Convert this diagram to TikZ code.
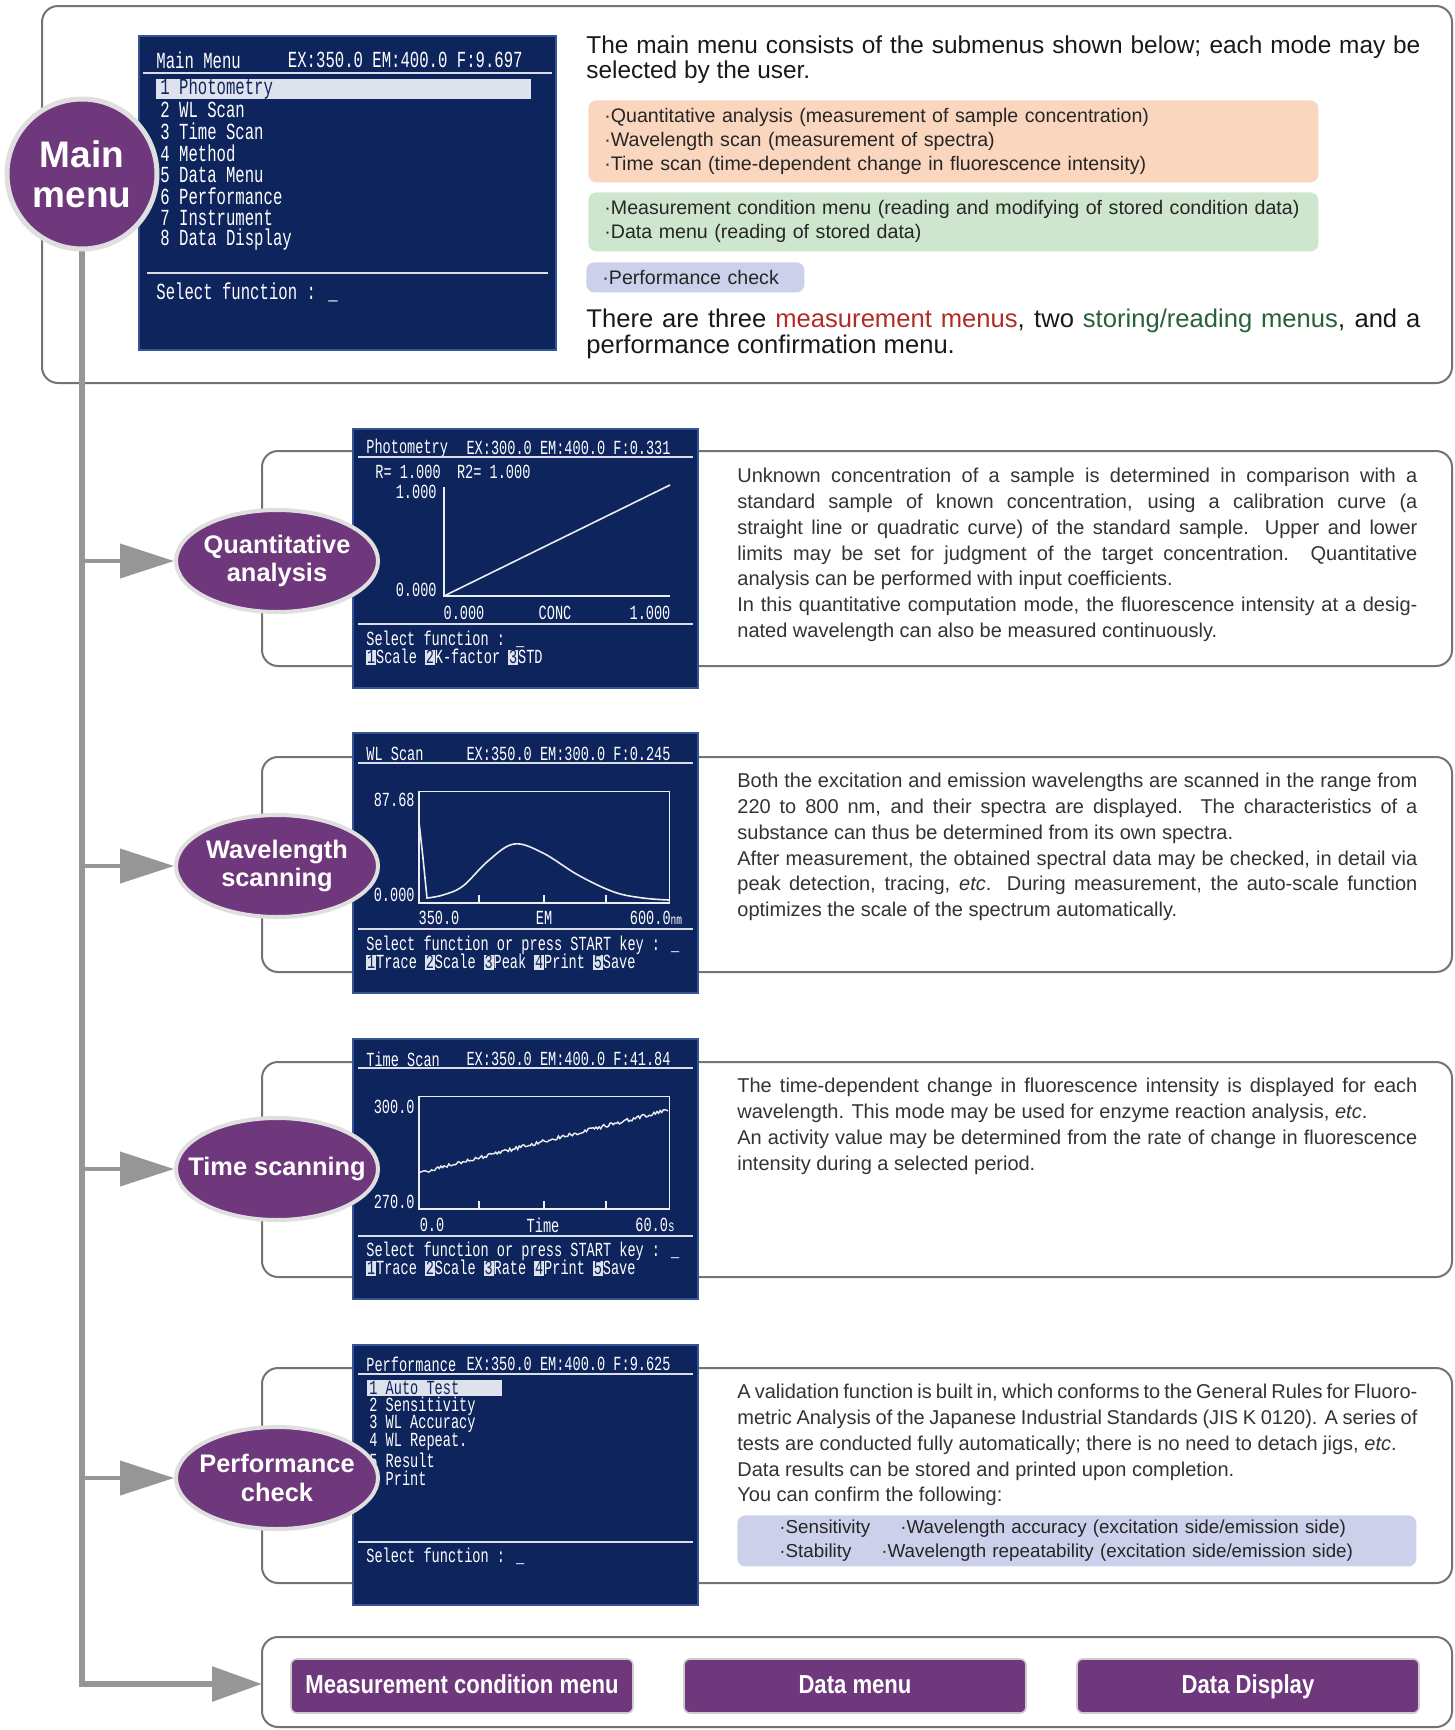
\documentclass[tikz,border=0pt]{standalone}
\usepackage{fontspec}
\setmainfont{Liberation Sans}
\newfontfamily\lcd{Liberation Mono}[FakeStretch=0.68]
\newfontfamily\condsans{Liberation Sans}[FakeStretch=0.85]
\usetikzlibrary{arrows.meta,positioning,shapes.geometric}

\definecolor{modepurple}{RGB}{112,56,124}
\definecolor{scrblue}{RGB}{14,36,92}
\definecolor{scredge}{RGB}{52,84,150}
\definecolor{panelgray}{RGB}{115,115,115}
\definecolor{linegray}{RGB}{150,150,150}
\definecolor{quantbg}{RGB}{250,214,190}
\definecolor{storebg}{RGB}{206,230,206}
\definecolor{perfbg}{RGB}{204,208,234}
\definecolor{measred}{RGB}{178,44,36}
\definecolor{storegreen}{RGB}{40,96,60}
\definecolor{hilite}{RGB}{222,226,236}

\newcommand\fkey[1]{{\setlength\fboxsep{0.4pt}\colorbox{hilite}{\textcolor{scrblue}{#1}}}}

\tikzset{
  panel/.style={draw=panelgray, line width=1pt, rounded corners=8pt},
  lcdscreen/.style={fill=scrblue, draw=scredge, line width=1.2pt},
  lcdrule/.style={draw=white!85!scrblue, line width=0.8pt},
  scrline/.style={draw=white!92!scrblue, line width=0.8pt},
  lcd/.style={text=white, inner sep=0pt, anchor=west, font=\lcd\fontsize{10}{12}\selectfont},
  biglcd/.style={lcd, font=\lcd\fontsize{11.5}{13}\selectfont},
  modeblob/.style={ellipse, fill=modepurple, draw=gray!25, line width=2pt, minimum width=101pt, minimum height=51pt, inner sep=0pt},
  modetext/.style={text=white, align=center, inner sep=0pt, font=\bfseries\fontsize{12.7}{14.3}\selectfont},
  mainblob/.style={circle, fill=modepurple, draw=gray!25, line width=2.5pt, minimum size=75pt, inner sep=0pt},
  branch/.style={draw=linegray, line width=2pt, -{Triangle[length=27pt,width=17pt]}},
  trunk/.style={draw=linegray, line width=3pt, -{Triangle[length=25pt,width=17pt]}},
  intro/.style={anchor=north west, inner sep=0pt, text width=417pt, align=justify, text=black!90, font=\fontsize{12.2}{12.8}\selectfont},
  desc/.style={anchor=north west, inner sep=0pt, text width=340pt, align=justify, text=black!80, font=\fontsize{10}{12.85}\selectfont},
  tint/.style={anchor=north west, rounded corners=4pt, inner xsep=8pt, inner ysep=0pt, align=left, text=black!85, font=\fontsize{9.8}{12}\selectfont},
  menubtn/.style={fill=modepurple, draw=gray!40, line width=0.8pt, rounded corners=3pt, minimum width=171pt, minimum height=27pt, text height=9.5pt, text depth=2.5pt, text=white, font=\condsans\bfseries\fontsize{13}{14}\selectfont}
}

\begin{document}
\begin{tikzpicture}[x=0.5pt,y=-0.5pt]
\useasboundingbox (0,0) rectangle (1455,1730);
\fill[white] (0,0) rectangle (1455,1730);

% frames
\draw[panel, fill=white] (42,6) rectangle (1452,383);
\draw[panel, fill=white] (262,451) rectangle (1452,666);
\draw[panel, fill=white] (262,757) rectangle (1452,972);
\draw[panel, fill=white] (262,1062) rectangle (1452,1277);
\draw[panel, fill=white] (262,1368) rectangle (1452,1583);
\draw[panel, fill=white] (262,1637) rectangle (1452,1727);
\coordinate (fbw) at (262,1684);

% main menu texts
\node[intro] (introtop) at (586,35) {The main menu consists of the submenus shown below; each mode may be\linebreak selected by the user.};
\node[tint, fill=quantbg, text width=349pt, minimum height=41pt] (measlist) at (588,100) {·Quantitative analysis (measurement of sample concentration)\\·Wavelength scan (measurement of spectra)\\·Time scan (time-dependent change in fluorescence intensity)};
\node[tint, fill=storebg, text width=349pt, minimum height=29.5pt] (storelist) at (588,192) {·Measurement condition menu (reading and modifying of stored condition data)\\·Data menu (reading of stored data)};
\node[tint, fill=perfbg, text width=93pt, minimum height=15pt] (perflist) at (586,262) {·Performance check};
\node[intro, font=\fontsize{12.8}{12.8}\selectfont] (introbot) at (586,309) {There are three \textcolor{measred}{measurement menus}, two \textcolor{storegreen}{storing/reading menus}, and a\linebreak performance confirmation menu.};

% main menu screen
\begin{scope}[shift={(139,36)}]
  \draw[lcdscreen] (0,0) rectangle (417,314);
  \node[biglcd] (mmhead) at (17,24) {Main Menu};
  \node[biglcd, anchor=east] (mmex) at (384,24) {EX:350.0 EM:400.0 F:9.697};
  \draw[lcdrule] (4,37) -- (413,37);
  \fill[hilite] (17,43) rectangle (392,63);
  \node[biglcd, text=scrblue] (mmi1) at (21,53) {1 Photometry};
  \foreach \t [count=\i from 2] in {2 WL Scan, 3 Time Scan, 4 Method, 5 Data Menu, 6 Performance, 7 Instrument, 8 Data Display}
    \node[biglcd] (mmi\i) at (21,{52+21.7*(\i-1)}) {\t};
  \draw[lcdrule] (8,237) -- (409,237);
  \node[biglcd] (mmsel) at (17,256) {Select function : \_};
\end{scope}

% photometry screen
\begin{scope}[shift={(353,429)}]
  \draw[lcdscreen] (0,0) rectangle (345,259);
  \node[lcd] (phhead) at (13,19) {Photometry};
  \node[lcd, anchor=east] (phex) at (318,19) {EX:300.0 EM:400.0 F:0.331};
  \draw[lcdrule] (5,28) -- (340,28);
  \node[lcd] (phr) at (22,43) {R= 1.000\ \ R2= 1.000};
  \node[lcd, anchor=east] (phy1) at (84,63) {1.000};
  \node[lcd, anchor=east] (phy0) at (84,161) {0.000};
  \draw[scrline] (91,58) |- (317,167);
  \draw[scrline] (91,167) -- (317,56);
  \node[lcd, anchor=center] (phx0) at (111,184) {0.000};
  \node[lcd, anchor=center] (phxc) at (202,184) {CONC};
  \node[lcd, anchor=center] (phx1) at (297,184) {1.000};
  \draw[lcdrule] (5,195) -- (340,195);
  \node[lcd] (phsel) at (13,210) {Select function : \_};
  \node[lcd] (phkey) at (13,228) {\fkey{1}Scale \fkey{2}K-factor \fkey{3}STD};
\end{scope}

% wavelength scan screen
\begin{scope}[shift={(353,733)}]
  \draw[lcdscreen] (0,0) rectangle (345,260);
  \node[lcd] (wlhead) at (13,21) {WL Scan};
  \node[lcd, anchor=east] (wlex) at (318,21) {EX:350.0 EM:300.0 F:0.245};
  \draw[lcdrule] (5,30) -- (340,30);
  \draw[scrline, line width=0.5pt] (66,58) rectangle (316,170);
  \draw[scrline] (66,58) |- (316,170);
  \foreach \k in {126,191,253} \draw[scrline] (\k,170) -- (\k,162);
  \node[lcd, anchor=east] (wly1) at (62,67) {87.68};
  \node[lcd, anchor=east] (wly0) at (62,162) {0.000};
  \node[lcd, anchor=center] (wlx0) at (86,185) {350.0};
  \node[lcd, anchor=center] (wlxc) at (191,185) {EM};
  \node[lcd, anchor=center] (wlx1) at (303,185) {600.0{\fontsize{7}{8}\selectfont nm}};
  \draw[scrline] (66,89) -- (70,125) -- plot[smooth, tension=0.6] coordinates {(74,165) (90,162) (110,153) (135,128) (161,111) (190,120) (225,142) (261,159) (290,165) (316,167)};
  \draw[lcdrule] (5,196) -- (340,196);
  \node[lcd] (wlsel) at (13,212) {Select function or press START key : \_};
  \node[lcd] (wlkey) at (13,229) {\fkey{1}Trace \fkey{2}Scale \fkey{3}Peak \fkey{4}Print \fkey{5}Save};
\end{scope}

% time scan screen
\begin{scope}[shift={(353,1039)}]
  \draw[lcdscreen] (0,0) rectangle (345,260);
  \node[lcd] (tshead) at (13,20) {Time Scan};
  \node[lcd, anchor=east] (tsex) at (318,20) {EX:350.0 EM:400.0 F:41.84};
  \draw[lcdrule] (5,29) -- (340,29);
  \draw[scrline, line width=0.5pt] (66,57) rectangle (316,170);
  \draw[scrline] (66,57) |- (316,170);
  \foreach \k in {126,191,253} \draw[scrline] (\k,170) -- (\k,162);
  \node[lcd, anchor=east] (tsy1) at (62,68) {300.0};
  \node[lcd, anchor=east] (tsy0) at (62,163) {270.0};
  \node[lcd, anchor=center] (tsx0) at (79,186) {0.0};
  \node[lcd, anchor=center] (tsxc) at (190,186) {Time};
  \node[lcd, anchor=center] (tsx1) at (302,186) {60.0{\fontsize{8}{8}\selectfont s}};
  \pgfmathsetseed{11}
  \draw[scrline, line width=0.7pt] plot[domain=66:315, samples=160, variable=\t] (\t, {134-(\t-66)*0.253+1.8*rand});
  \draw[lcdrule] (5,197) -- (340,197);
  \node[lcd] (tssel) at (13,212) {Select function or press START key : \_};
  \node[lcd] (tskey) at (13,229) {\fkey{1}Trace \fkey{2}Scale \fkey{3}Rate \fkey{4}Print \fkey{5}Save};
\end{scope}

% performance screen
\begin{scope}[shift={(353,1345)}]
  \draw[lcdscreen] (0,0) rectangle (345,260);
  \node[lcd] (pchead) at (13,19) {Performance};
  \node[lcd, anchor=east] (pcex) at (318,19) {EX:350.0 EM:400.0 F:9.625};
  \draw[lcdrule] (5,29) -- (340,29);
  \fill[hilite] (14,35) rectangle (149,51);
  \node[lcd, text=scrblue] (pci1) at (16,43) {1 Auto Test};
  \foreach \t [count=\i from 2] in {2 Sensitivity, 3 WL Accuracy, 4 WL Repeat., 5 Result, 6 Print}
    \node[lcd] (pci\i) at (16,{43+18*(\i-1)}) {\t};
  \draw[lcdrule] (5,197) -- (340,197);
  \node[lcd] (pcsel) at (13,211) {Select function : \_};
\end{scope}

% descriptions
\node[desc] (qadesc) at (737,468) {Unknown concentration of a sample is determined in comparison with a\linebreak standard sample of known concentration, using a calibration curve (a\linebreak straight line or quadratic curve) of the standard sample.  Upper and lower\linebreak limits may be set for judgment of the target concentration.  Quantitative\linebreak analysis can be performed with input coefficients.\\In this quantitative computation mode, the fluorescence intensity at a desig-\linebreak nated wavelength can also be measured continuously.};
\node[desc] (wldesc) at (737,773) {Both the excitation and emission wavelengths are scanned in the range from\linebreak 220 to 800 nm, and their spectra are displayed.  The characteristics of a\linebreak substance can thus be determined from its own spectra.\\After measurement, the obtained spectral data may be checked, in detail via\linebreak peak detection, tracing, \emph{etc}.  During measurement, the auto-scale function\linebreak optimizes the scale of the spectrum automatically.};
\node[desc] (tsdesc) at (737,1078) {The time-dependent change in fluorescence intensity is displayed for each\linebreak wavelength.  This mode may be used for enzyme reaction analysis, \emph{etc}.\\An activity value may be determined from the rate of change in fluorescence\linebreak intensity during a selected period.};
\node[desc] (pcdesc) at (737,1384) {A validation function is built in, which conforms to the General Rules for Fluoro-\linebreak metric Analysis of the Japanese Industrial Standards (JIS K 0120).  A series of\linebreak tests are conducted fully automatically; there is no need to detach jigs, \emph{etc}.\\Data results can be stored and printed upon completion.\\You can confirm the following:};
\node[tint, fill=perfbg, text width=339.5pt, minimum height=25.5pt, inner xsep=0pt, inner ysep=0pt, font=\fontsize{9.4}{12}\selectfont] (pcitems) at (737,1515) {\hspace*{21pt}\makebox[60.5pt][l]{·Sensitivity}·Wavelength accuracy (excitation side/emission side)\\\hspace*{21pt}\makebox[51pt][l]{·Stability}·Wavelength repeatability (excitation side/emission side)};

% tree
\draw[trunk] (82,174) |- (fbw);
\node[mainblob] (mm) at (82,174) {};
\node[modetext, font=\bfseries\fontsize{18.5}{20}\selectfont] (mmtext) at (mm) {Main\\menu};

\node[modeblob] (qa) at (277,561) {};
\node[modetext] (qatext) at (qa) {Quantitative\\analysis};
\node[modeblob] (wl) at (277,866) {};
\node[modetext] (wltext) at (wl) {Wavelength\\scanning};
\node[modeblob] (ts) at (277,1169) {};
\node[modetext] (tstext) at (ts) {Time scanning};
\node[modeblob] (pc) at (277,1478) {};
\node[modetext] (pctext) at (pc) {Performance\\check};

\draw[branch] (mm.south |- qa.west) -- (qa.west);
\draw[branch] (mm.south |- wl.west) -- (wl.west);
\draw[branch] (mm.south |- ts.west) -- (ts.west);
\draw[branch] (mm.south |- pc.west) -- (pc.west);

% storing / reading menus
\node[menubtn] (mcm) at (462,1686) {Measurement condition menu};
\node[menubtn] (dmenu) at (855,1686) {Data menu};
\node[menubtn] (ddisp) at (1248,1686) {Data Display};
\end{tikzpicture}
\end{document}
